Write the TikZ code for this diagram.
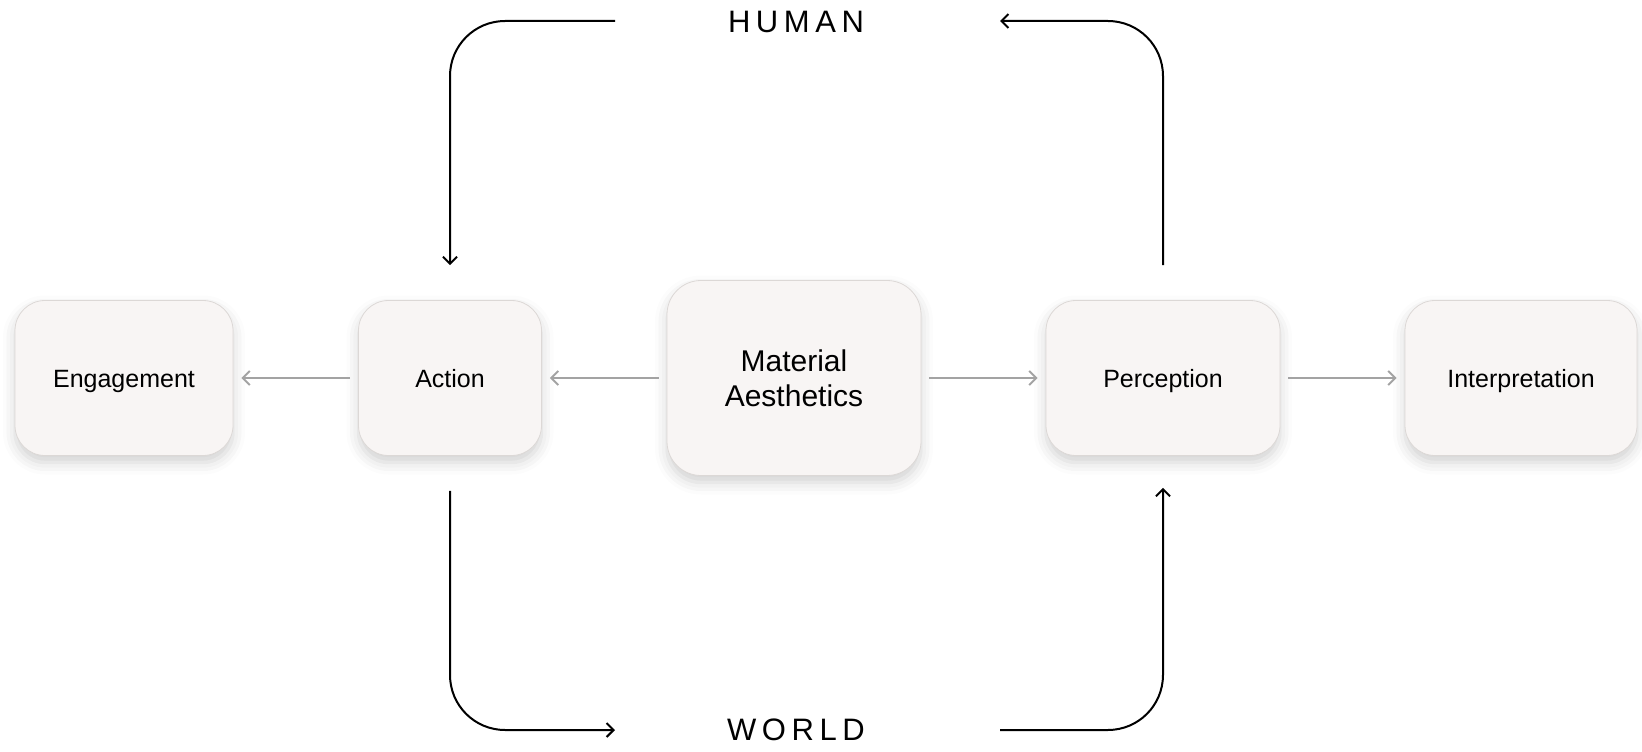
\documentclass[tikz,border=0pt]{standalone}
\usepackage{fontspec}
\setmainfont{Liberation Sans}
\usetikzlibrary{arrows.meta,shadows.blur}
\definecolor{boxfill}{HTML}{F8F5F4}
\definecolor{boxline}{HTML}{DCD8D6}
\definecolor{flowgray}{HTML}{A3A3A3}
\tikzset{
  blok/.style={draw=boxline,line width=0.8pt,fill=boxfill,rounded corners=30pt,align=center,inner sep=0pt,
    font=\fontsize{25}{30}\selectfont,text height=18pt,text depth=0pt,
    blur shadow={shadow xshift=0pt,shadow yshift=-7pt,shadow blur radius=12pt,shadow opacity=18}},
  flow/.style={->,draw=flowgray,line width=2pt,shorten <=8pt,shorten >=8pt},
  cycleline/.style={->,black,line width=2pt,rounded corners=55pt},
  tag/.style={font=\fontsize{31}{34}\selectfont\addfontfeatures{LetterSpace=18}}
}
\begin{document}
\begin{tikzpicture}[x=1pt,y=-1pt,>={Straight Barb[length=7pt,width=14pt]}]
\useasboundingbox (0,0) rectangle (1642,752);
\node[blok,minimum width=218pt,minimum height=155pt] (eng) at (124,378) {Engagement};
\node[blok,minimum width=183pt,minimum height=155pt] (act) at (450,378) {Action};
\node[blok,minimum width=254pt,minimum height=195pt,rounded corners=34pt,text height=,text depth=,
  font=\fontsize{30}{35}\selectfont] (mat) at (794,378) {Material\\Aesthetics};
\node[blok,minimum width=234pt,minimum height=155pt] (per) at (1163,378) {Perception};
\node[blok,minimum width=232pt,minimum height=155pt] (int) at (1521,378) {Interpretation};
\draw[flow] (act.west) -- (eng.east);
\draw[flow] (mat.west) -- (act.east);
\draw[flow] (mat.east) -- (per.west);
\draw[flow] (per.east) -- (int.west);
\node[tag] (human) at (796,22) {HUMAN};
\node[tag] (world) at (796,730) {WORLD};
\coordinate (hl) at (615,21);
\coordinate (hr) at (1000,21);
\coordinate (wl) at (615,730);
\coordinate (wr) at (1000,730);
\draw[cycleline] (hl) -| ([yshift=35pt]act.north);
\draw[cycleline] ([yshift=35pt]per.north) |- (hr);
\draw[cycleline] ([yshift=-35pt]act.south) |- (wl);
\draw[cycleline] (wr) -| ([yshift=-32pt]per.south);
\end{tikzpicture}
\end{document}
